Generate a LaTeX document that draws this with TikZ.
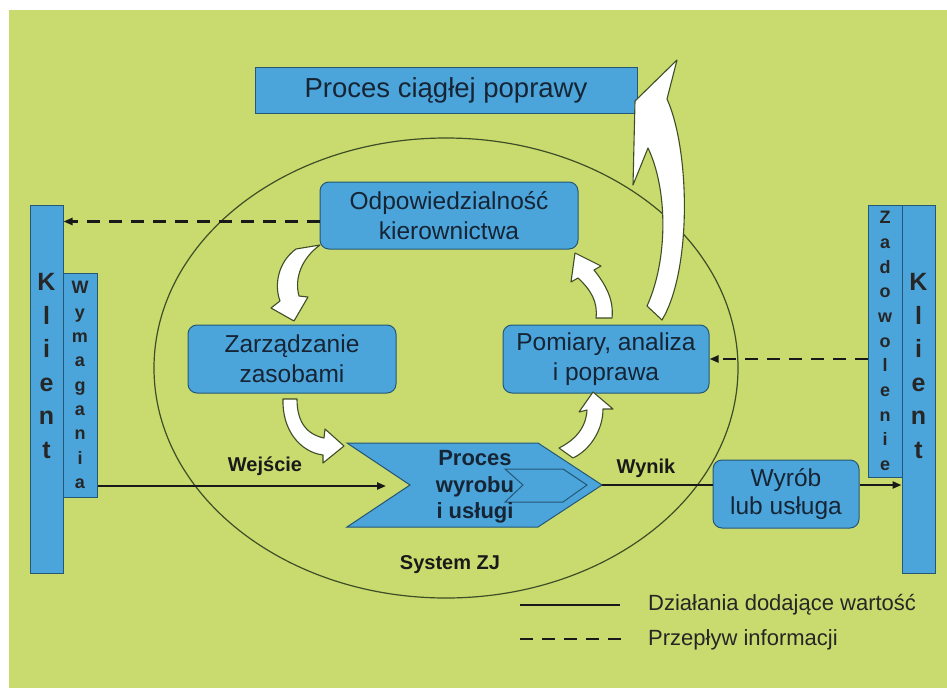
\documentclass[tikz,border=0pt]{standalone}
\usepackage{fontspec}
\setmainfont{Liberation Sans}
\usetikzlibrary{arrows.meta}

\definecolor{bgGreen}{RGB}{201,218,110}
\definecolor{boxBlue}{RGB}{75,165,219}
\definecolor{boxEdge}{RGB}{38,88,118}
\definecolor{inkNavy}{RGB}{22,36,52}
\definecolor{olive}{RGB}{62,78,38}
\newcommand\setfs[2]{\fontsize{#1}{#2}\selectfont}

\begin{document}
\begin{tikzpicture}[x=1pt,y=-1pt,
  box/.style={draw=boxEdge, line width=1pt, fill=boxBlue, rounded corners=9pt,
    text=inkNavy, align=center, inner sep=0pt, font=\setfs{24.5}{30}},
  bar/.style={draw=boxEdge, line width=1pt, fill=boxBlue, inner sep=0pt},
  bigletters/.style={text=black!85, align=center, inner sep=0pt, font=\bfseries\setfs{25}{33.6}},
  smallletters/.style={text=black!85, align=center, inner sep=0pt, font=\bfseries\setfs{18}{24.3}},
  lbl/.style={text=black!90, inner sep=0pt, font=\bfseries\setfs{20}{24}},
  legendtext/.style={text=black!85, anchor=west, inner sep=0pt, font=\setfs{22}{26}},
  flow/.style={draw=black!90, line width=2.2pt},
  flowarrow/.style={flow, -{Triangle[length=9pt,width=7pt]}},
  info/.style={draw=black!90, line width=2.4pt, dash pattern=on 13pt off 9pt},
  infoarrow/.style={info, -{Triangle[length=9pt,width=7pt]}},
  whitearrow/.style={fill=white, draw=olive, line width=1.1pt, line join=round}
]
\useasboundingbox (0,0) rectangle (947,688);

% background
\fill[white] (0,0) rectangle (947,688);
\fill[bgGreen] (9,10) rectangle (947,688);

% quality management system boundary
\draw[olive, line width=1.2pt] (446,368) ellipse [x radius=292, y radius=230];

% continual improvement
\node[bar, minimum width=382, minimum height=46, text=inkNavy, font=\setfs{27.5}{32}]
  (improve) at (446,90) {Proces ciągłej poprawy};
\draw[whitearrow] (677,60) -- (667,99)
  .. controls (690,150) and (692,270) .. (662,320) -- (647,306)
  .. controls (668,260) and (668,190) .. (648,148) -- (633,185) -- (635,101) -- cycle;

% main process boxes
\node[box, minimum width=258, minimum height=67] (odp) at (449,215.5)
  {Odpowiedzialność\\kierownictwa};
\node[box, minimum width=208, minimum height=68] (zarz) at (292,359)
  {Zarządzanie\\zasobami};
\node[box, minimum width=206, minimum height=68] (pom) at (606,359)
  {Pomiary, analiza\\i poprawa};
\node[box, minimum width=146, minimum height=68, font=\setfs{24.5}{28}] (wyrob) at (786,494)
  {Wyrób\\lub usługa};

% product realization chevron
\draw[draw=boxEdge, line width=1pt, fill=boxBlue]
  (347,443) -- (538,443) -- (602,485) -- (538,527) -- (347,527) -- (410,485) -- cycle;
\draw[draw=boxEdge, line width=1pt]
  (505,469) -- (563,469) -- (587,485) -- (563,502) -- (505,502) -- (523,485) -- cycle;
\coordinate (procTip) at (602,485);
\coordinate (procIn) at (386,486);
\node[text=inkNavy, align=center, inner sep=0pt, font=\bfseries\setfs{22}{26.5}]
  (proc) at (475,487) {Proces\\wyrobu\\i usługi};

% cycle arrows
\draw[whitearrow] (296,249) .. controls (278,262) and (274,285) .. (280,301)
  -- (271,308) -- (294,321) -- (308,297) -- (299,296)
  .. controls (294,278) and (302,258) .. (320,245) -- cycle;
\draw[whitearrow] (283,399) -- (297,399) .. controls (297,420) and (305,434) .. (324,438)
  -- (325,429) -- (344,446) -- (323,463) -- (323,455)
  .. controls (300,452) and (282,430) .. (283,399) -- cycle;
\draw[whitearrow] (593,392) -- (613,409) -- (603,409)
  .. controls (603,430) and (590,450) .. (573,458) -- (559,448)
  .. controls (575,440) and (586,428) .. (587,410) -- (579,412) -- cycle;
\draw[whitearrow] (575,253) -- (601,266) -- (594,270)
  .. controls (606,285) and (614,300) .. (612,318) -- (596,318)
  .. controls (598,302) and (591,290) .. (578,278) -- (571,282) -- cycle;

% customers
\node[bar, minimum width=33, minimum height=368] (klientL) at (46.5,389) {};
\node[bigletters] (klientLtext) at (46.5,366) {K\\l\\i\\e\\n\\t};
\node[bar, minimum width=34, minimum height=224, smallletters] (wym) at (80,385)
  {W\\y\\m\\a\\g\\a\\n\\i\\a};
\node[bar, minimum width=33, minimum height=368] (klientR) at (918.5,389) {};
\node[bigletters] (klientRtext) at (918.5,366) {K\\l\\i\\e\\n\\t};
\node[bar, minimum width=34, minimum height=272, font=\bfseries\setfs{18}{24.7},
  text=black!85, align=center] (zad) at (885,341)
  {Z\\a\\d\\o\\w\\o\\l\\e\\n\\i\\e};

% value-adding flow
\draw[flowarrow] (wym.east |- procIn) -- (procIn);
\draw[flow] (procTip) -- (wyrob.west |- procTip);
\draw[flowarrow] (wyrob.east |- procTip) -- (klientR.west |- procTip);

% information flow
\coordinate (odpOut) at ([yshift=-6pt]odp.west);
\draw[infoarrow] (odpOut) -- (klientL.east |- odpOut);
\draw[infoarrow] (zad.west |- pom.east) -- (pom.east);

% labels
\node[lbl] (wej) at (265,466) {Wejście};
\node[lbl] (wynik) at (646,468) {Wynik};
\node[lbl] (sys) at (450,565) {System ZJ};

% legend
\coordinate (legA1) at (520,605);
\coordinate (legA2) at (620,605);
\coordinate (legB1) at (520,639);
\coordinate (legB2) at (621,639);
\draw[flow, line width=2.5pt] (legA1) -- (legA2);
\draw[info] (legB1) -- (legB2);
\node[legendtext] (legAtext) at (648,605) {Działania dodające wartość};
\node[legendtext] (legBtext) at (648,640) {Przepływ informacji};
\end{tikzpicture}
\end{document}
